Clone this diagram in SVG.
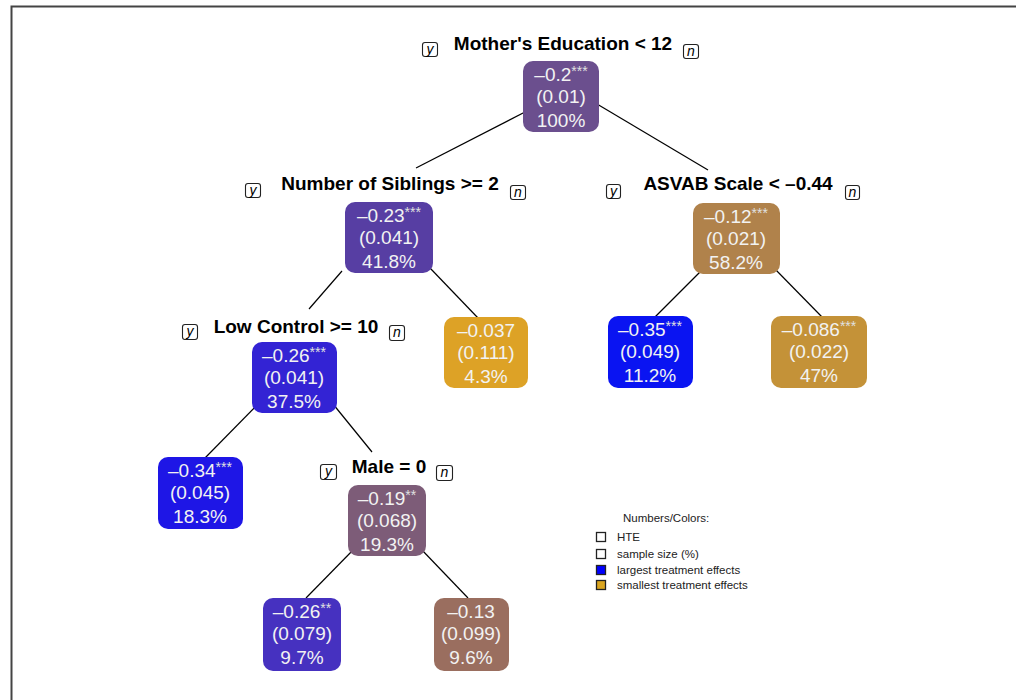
<svg xmlns="http://www.w3.org/2000/svg" width="1016" height="700" viewBox="0 0 1016 700">
<style>
.bx{stroke:none}
.nt{font-family:"Liberation Sans",Arial,sans-serif;font-size:19px;fill:#f2f2f2;text-anchor:middle}
.st{font-size:14px;fill:#e0e0e0}
.lb{font-family:"Liberation Sans",Arial,sans-serif;font-size:19px;font-weight:bold;fill:#000;text-anchor:middle}
.yn{fill:#fff;stroke:#222;stroke-width:1.1}
.ynt{font-family:"Liberation Sans",Arial,sans-serif;font-size:14px;font-style:italic;fill:#000;text-anchor:middle}
.cn{stroke:#000;stroke-width:1.2;fill:none}
.lg{font-family:"Liberation Sans",Arial,sans-serif;font-size:11.5px;fill:#222}
.ls{stroke:#222;stroke-width:1.3}
</style>
<rect x="0" y="0" width="1016" height="700" fill="#fff"/>
<path d="M11.5,700 V6.5 H1016" fill="none" stroke="#444" stroke-width="2"/>

<g id="connectors">
<line class="cn" x1="525" y1="112" x2="416" y2="168"/>
<line class="cn" x1="597" y1="104" x2="708" y2="170"/>
<line class="cn" x1="342" y1="271" x2="309" y2="309"/>
<line class="cn" x1="430" y1="268" x2="478" y2="318"/>
<line class="cn" x1="702" y1="270" x2="655" y2="317"/>
<line class="cn" x1="774" y1="268" x2="822" y2="317"/>
<line class="cn" x1="257" y1="405" x2="205" y2="458"/>
<line class="cn" x1="333" y1="404" x2="372" y2="452"/>
<line class="cn" x1="355" y1="548" x2="306" y2="598"/>
<line class="cn" x1="421" y1="549" x2="468" y2="598"/>
</g>

<g id="n1">
<text class="lb" x="563" y="50">Mother's Education &lt; 12</text>
<rect class="yn" x="422.5" y="42.5" width="15" height="14" rx="2.5"/><text class="ynt" x="430" y="54">y</text>
<rect class="yn" x="683.5" y="44.5" width="15" height="14" rx="2.5"/><text class="ynt" x="691" y="56">n</text>
<rect class="bx" x="523" y="61" width="76" height="71" rx="10" fill="#6b4f8e"/>
<text class="nt" x="561" y="81">–0.2<tspan class="st" dy="-5">***</tspan></text>
<text class="nt" x="561" y="103">(0.01)</text>
<text class="nt" x="561" y="127">100%</text>
</g>

<g id="n2">
<text class="lb" x="390" y="190">Number of Siblings &gt;= 2</text>
<rect class="yn" x="245.5" y="183.5" width="15" height="14" rx="2.5"/><text class="ynt" x="253" y="195">y</text>
<rect class="yn" x="510.5" y="185.5" width="15" height="14" rx="2.5"/><text class="ynt" x="518" y="197">n</text>
<rect class="bx" x="345" y="202" width="88" height="71" rx="10" fill="#573ea3"/>
<text class="nt" x="389" y="222">–0.23<tspan class="st" dy="-5">***</tspan></text>
<text class="nt" x="389" y="244">(0.041)</text>
<text class="nt" x="389" y="268">41.8%</text>
</g>

<g id="n3">
<text class="lb" x="738" y="190">ASVAB Scale &lt; –0.44</text>
<rect class="yn" x="606.5" y="184.5" width="14" height="14" rx="2.5"/><text class="ynt" x="613.5" y="196">y</text>
<rect class="yn" x="845.5" y="185.5" width="14" height="14" rx="2.5"/><text class="ynt" x="852.5" y="197">n</text>
<rect class="bx" x="693" y="203" width="87" height="71" rx="10" fill="#b0824b"/>
<text class="nt" x="736" y="223">–0.12<tspan class="st" dy="-5">***</tspan></text>
<text class="nt" x="736" y="245">(0.021)</text>
<text class="nt" x="736" y="269">58.2%</text>
</g>

<g id="n4">
<text class="lb" x="296" y="333">Low Control &gt;= 10</text>
<rect class="yn" x="182.5" y="324.5" width="15" height="15" rx="2.5"/><text class="ynt" x="190" y="336">y</text>
<rect class="yn" x="389.5" y="325.5" width="15" height="15" rx="2.5"/><text class="ynt" x="397" y="337">n</text>
<rect class="bx" x="252" y="342" width="85" height="71" rx="10" fill="#3323d4"/>
<text class="nt" x="294" y="362">–0.26<tspan class="st" dy="-5">***</tspan></text>
<text class="nt" x="294" y="384">(0.041)</text>
<text class="nt" x="294" y="408">37.5%</text>
</g>

<g id="n5">
<rect class="bx" x="444" y="317" width="84" height="71" rx="10" fill="#dda226"/>
<text class="nt" x="486" y="337">–0.037</text>
<text class="nt" x="486" y="359">(0.111)</text>
<text class="nt" x="486" y="383">4.3%</text>
</g>

<g id="n6">
<rect class="bx" x="608" y="316" width="85" height="72" rx="10" fill="#0a14f2"/>
<text class="nt" x="650" y="336">–0.35<tspan class="st" dy="-5">***</tspan></text>
<text class="nt" x="650" y="358">(0.049)</text>
<text class="nt" x="650" y="382">11.2%</text>
</g>

<g id="n7">
<rect class="bx" x="771" y="316" width="96" height="72" rx="10" fill="#c49238"/>
<text class="nt" x="819" y="336">–0.086<tspan class="st" dy="-5">***</tspan></text>
<text class="nt" x="819" y="358">(0.022)</text>
<text class="nt" x="819" y="382">47%</text>
</g>

<g id="n8">
<rect class="bx" x="158" y="457" width="85" height="72" rx="10" fill="#1e16e6"/>
<text class="nt" x="200" y="477">–0.34<tspan class="st" dy="-5">***</tspan></text>
<text class="nt" x="200" y="499">(0.045)</text>
<text class="nt" x="200" y="523">18.3%</text>
</g>

<g id="n9">
<text class="lb" x="389" y="473">Male = 0</text>
<rect class="yn" x="320.5" y="464.5" width="16" height="15" rx="2.5"/><text class="ynt" x="328.5" y="476">y</text>
<rect class="yn" x="436.5" y="465.5" width="16" height="15" rx="2.5"/><text class="ynt" x="444.5" y="477">n</text>
<rect class="bx" x="348" y="485" width="78" height="71" rx="10" fill="#7d5c78"/>
<text class="nt" x="387" y="505">–0.19<tspan class="st" dy="-5">**</tspan></text>
<text class="nt" x="387" y="527">(0.068)</text>
<text class="nt" x="387" y="551">19.3%</text>
</g>

<g id="n10">
<rect class="bx" x="263" y="598" width="78" height="73" rx="10" fill="#4631c0"/>
<text class="nt" x="302" y="618">–0.26<tspan class="st" dy="-5">**</tspan></text>
<text class="nt" x="302" y="640">(0.079)</text>
<text class="nt" x="302" y="664">9.7%</text>
</g>

<g id="n11">
<rect class="bx" x="434" y="598" width="75" height="73" rx="10" fill="#9a6e5f"/>
<text class="nt" x="471" y="618">–0.13</text>
<text class="nt" x="471" y="640">(0.099)</text>
<text class="nt" x="471" y="664">9.6%</text>
</g>

<g id="legend">
<text class="lg" x="623" y="522">Numbers/Colors:</text>
<rect class="ls" x="596.5" y="532.5" width="9" height="9" fill="#fff"/>
<text class="lg" x="617" y="541">HTE</text>
<rect class="ls" x="596.5" y="549.5" width="9" height="9" fill="#fff"/>
<text class="lg" x="617" y="558">sample size (%)</text>
<rect class="ls" x="596.5" y="565.5" width="9" height="9" fill="#0000ff"/>
<text class="lg" x="617" y="574">largest treatment effects</text>
<rect class="ls" x="596.5" y="580.5" width="9" height="9" fill="#daa520"/>
<text class="lg" x="617" y="589">smallest treatment effects</text>
</g>
</svg>
